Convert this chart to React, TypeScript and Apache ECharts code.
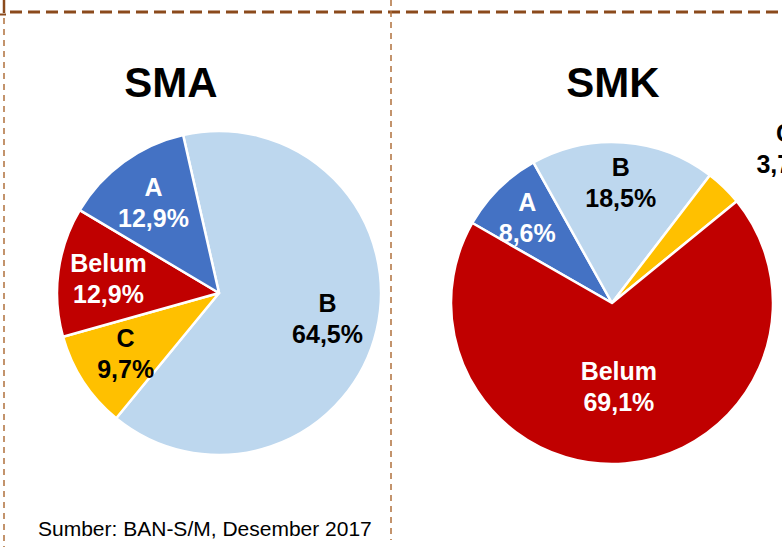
import React, { useEffect, useRef } from "react";
import * as echarts from "echarts";

const FONT = "'Liberation Sans', Arial, sans-serif";

const smaNames = ["B", "C", "Belum", "A"];
const smaValues = [64.5, 9.7, 12.9, 12.9];
const smkNames = ["A", "B", "C", "Belum"];
const smkValues = [8.6, 18.5, 3.7, 69.1];

const colorOf: Record<string, string> = {
  A: "#4472C4",
  B: "#BDD7EE",
  C: "#FFC000",
  Belum: "#C00000",
};
const labelColorOf: Record<string, string> = {
  A: "#FFFFFF",
  B: "#000000",
  C: "#000000",
  Belum: "#FFFFFF",
};

const fmt = (p: any) => `${p.name}\n${String(p.value).replace(".", ",")}%`;

const labelStyle = {
  fontFamily: FONT,
  fontWeight: "bold" as const,
  fontSize: 25,
  lineHeight: 31,
  formatter: fmt,
};

function mainPie(center: number[], r: number, start: number, names: string[], values: number[], showLabel: string[]) {
  return {
    type: "pie",
    center,
    radius: [0, r],
    startAngle: start,
    clockwise: true,
    silent: true,
    avoidLabelOverlap: false,
    labelLine: { show: false },
    emphasis: { disabled: true },
    data: names.map((n, i) => ({
      name: n,
      value: values[i],
      itemStyle: { color: colorOf[n], borderColor: "#FFFFFF", borderWidth: 2.5 },
      label: {
        show: showLabel.includes(n),
        position: "inside",
        color: labelColorOf[n],
        ...labelStyle,
      },
    })),
  };
}

function labelPie(center: number[], r: number, start: number, names: string[], values: number[], showLabel: string[], layout?: any) {
  return {
    type: "pie",
    center,
    radius: [0, r],
    startAngle: start,
    clockwise: true,
    silent: true,
    z: 5,
    avoidLabelOverlap: false,
    labelLine: { show: false },
    labelLayout: layout,
    emphasis: { disabled: true },
    data: names.map((n, i) => ({
      name: n,
      value: values[i],
      itemStyle: { color: "rgba(0,0,0,0)", borderWidth: 0 },
      label: {
        show: showLabel.includes(n),
        position: "inside",
        color: labelColorOf[n],
        ...labelStyle,
      },
    })),
  };
}

export default function App() {
  const ref = useRef<HTMLDivElement>(null);
  useEffect(() => {
    if (!ref.current) return;
    const chart = echarts.init(ref.current, undefined, { renderer: "svg" });
    const smaC = [219, 293];
    const smkC = [612, 303];
    const brown = "#8B4A1C";
    const lightBrown = "#B0703C";
    chart.setOption({
      animation: false,
      backgroundColor: "#FFFFFF",
      graphic: [
        { type: "line", shape: { x1: 10, y1: 12, x2: 782, y2: 12 }, style: { stroke: brown, lineWidth: 3, lineDash: [12, 6] } },
        { type: "line", shape: { x1: 4, y1: 0, x2: 4, y2: 13 }, style: { stroke: brown, lineWidth: 2.5 } },
        { type: "line", shape: { x1: 0, y1: 14.5, x2: 6, y2: 14.5 }, style: { stroke: brown, lineWidth: 2 } },
        { type: "line", shape: { x1: 4, y1: 18, x2: 4, y2: 547 }, style: { stroke: lightBrown, lineWidth: 1.5, lineDash: [6, 5] } },
        { type: "line", shape: { x1: 391, y1: 0, x2: 391, y2: 540 }, style: { stroke: lightBrown, lineWidth: 1.5, lineDash: [6, 5] } },
        {
          type: "text", x: 171, y: 82,
          style: { text: "SMA", fill: "#000", font: `bold 42px ${FONT}`, textAlign: "center", textVerticalAlign: "middle" },
        },
        {
          type: "text", x: 613, y: 82,
          style: { text: "SMK", fill: "#000", font: `bold 42px ${FONT}`, textAlign: "center", textVerticalAlign: "middle" },
        },
        {
          type: "text", x: 38, y: 528,
          style: { text: "Sumber: BAN-S/M, Desember 2017", fill: "#000", font: `21px ${FONT}`, textAlign: "left", textVerticalAlign: "middle" },
        },
      ],
      series: [
        mainPie(smaC, 162, 102.8, smaNames, smaValues, []),
        labelPie(smaC, 217, 102.8, smaNames, smaValues, ["A", "B", "C", "Belum"]),
        mainPie(smkC, 161, 150.2, smkNames, smkValues, ["Belum"]),
        labelPie(smkC, 235, 150.2, smkNames, smkValues, ["A", "B"]),
        labelPie(smkC, 462, 150.2, smkNames, smkValues, ["C"], { dx: 10, dy: 13 }),
      ],
    });
    return () => chart.dispose();
  }, []);
  return <div ref={ref} style={{ position: "fixed", left: 0, top: 0, width: 782, height: 547 }} />;
}
